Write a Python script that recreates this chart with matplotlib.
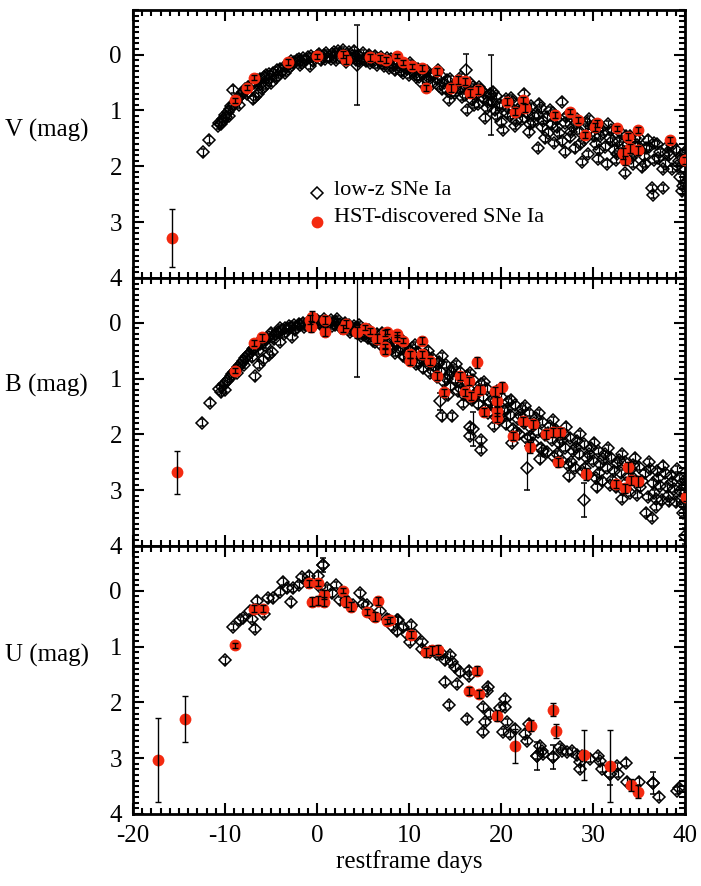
import numpy as np
import matplotlib
matplotlib.use("Agg")
import matplotlib.pyplot as plt
from matplotlib.ticker import MultipleLocator

plt.rcParams['font.family'] = ['Liberation Serif', 'DejaVu Serif']
plt.rcParams['axes.unicode_minus'] = False

# ---------------- data (day, mag) ----------------
v_lowz = [(-12.4,1.75),(-11.7,1.52),(-10.6,1.22),(-10.4,1.25),(-10.2,1.15),(-10.0,1.08),(-9.9,1.12),(-9.7,1.02),
 (-9.5,0.98),(-9.3,0.92),(-9.1,0.63),(-9.0,0.88),(-8.8,0.84),(-8.6,0.78),(-8.4,0.74),(-8.2,0.70),(-8.0,0.66),
 (-7.8,0.62),(-7.5,0.58),(-7.2,0.54),(-7.0,0.80),(-6.9,0.50),(-6.7,0.75),(-6.5,0.46),(-6.4,0.70),(-6.2,0.43),
 (-6.0,0.62),(-5.8,0.40),(-5.6,0.56),(-5.5,0.37),(-5.2,0.35),(-5.0,0.50),(-4.8,0.32),(-4.5,0.42),(-4.4,0.28),
 (-4.0,0.25),(-3.8,0.30),(-3.5,0.33),(-3.5,0.20),(-3.0,0.16),(-2.8,0.12),(-2.5,0.14),(-2.2,0.10),(-2.0,0.08),
 (-1.8,0.12),(-1.5,0.06),(-1.2,0.09),(-1.0,0.05),(-0.8,0.20),(-0.6,0.03),(-0.3,0.06),(0.0,0.02),(0.2,-0.02),
 (0.5,0.04),(0.8,0.00),(1.0,-0.03),(1.3,0.05),(1.5,0.08),(1.8,-0.04),(2.0,0.02),(2.3,-0.06),(2.5,0.05),
 (2.8,-0.08),(3.0,0.00),(3.3,0.08),(3.5,-0.05),(3.8,0.03),(4.0,-0.07),(4.2,0.10),(4.5,0.00),(4.8,0.06),
 (5.0,-0.03),(5.3,0.12),(5.5,0.04),(5.8,0.15),(6.0,0.07),(6.3,0.02),(6.5,0.18),(6.8,0.10),(7.0,0.05),
 (7.3,0.20),(7.5,0.13),(7.8,0.24),(8.0,0.08),(8.3,0.17),(8.5,0.28),(8.8,0.12),(9.0,0.22),(9.3,0.32),
 (9.5,0.18),(9.8,0.26),(10.0,0.36),(10.3,0.22),(10.5,0.30),(10.8,0.40),(11.0,0.26),(11.4,0.50),(11.5,0.34),
 (11.8,0.44),(12.0,0.30),(12.3,0.38),(12.5,0.52),(12.8,0.34),(13.0,0.44),(13.3,0.56),(13.5,0.38),(13.8,0.50),
 (14.0,0.62),(14.3,0.81),(14.5,0.44),(14.8,0.56),(15.0,0.68),(15.3,0.50),(15.5,0.62),(15.8,0.76),(16.0,0.55),
 (16.3,0.99),(16.5,0.66),(16.8,0.82),(17.0,0.58),(17.3,0.72),(17.5,0.88),(17.8,0.64),(18.0,0.78),(18.3,1.13),
 (18.5,0.95),(18.8,0.70),(19.0,0.84),(19.3,1.00),(19.5,0.74),(19.8,0.90),(20.0,1.20),(20.2,1.35),(20.5,0.80),
 (20.8,0.96),(21.0,1.10),(21.3,0.84),(21.5,1.28),(21.8,1.00),(22.0,0.88),(22.3,1.15),(22.5,0.70),(22.8,1.05),
 (23.0,1.38),(23.3,0.92),(23.5,1.20),(24.0,1.67),(24.0,1.08),(24.3,0.96),(24.5,1.30),(24.8,1.50),(25.0,1.12),
 (25.3,1.00),(25.5,1.25),(25.8,1.58),(26.0,1.16),(26.3,1.40),(26.6,0.84),(27.0,1.74),(27.0,1.22),(27.3,1.08),
 (27.5,1.48),(27.8,1.30),(28.0,1.68),(28.3,1.15),(28.5,1.36),(28.8,1.92),(29.0,1.52),(29.3,1.22),(29.5,1.78),
 (29.8,1.40),(30.0,1.28),(30.3,1.60),(30.5,1.86),(30.8,1.45),(31.0,1.30),(31.3,1.65),(31.5,1.95),(31.8,1.50),
 (32.0,1.35),(32.3,1.70),(32.5,1.88),(32.8,1.55),(33.0,1.40),(33.5,2.12),(33.5,1.75),(33.8,1.60),(34.0,1.45),
 (34.3,1.95),(34.5,1.78),(34.8,1.62),(35.0,1.50),(35.3,2.02),(35.5,1.82),(35.8,1.68),(36.0,1.52),(36.4,2.39),
 (36.5,2.51),(36.6,1.88),(37.0,1.60),(37.3,1.75),(37.6,2.39),(37.8,1.95),(38.0,1.65),(38.3,1.80),(38.6,2.05),
 (39.0,1.70),(39.3,1.90),(39.5,2.20),(39.8,2.35),(40.0,1.75),(39.7,2.45),(40.0,2.05)]
v_lowz_extra = [(0.4,0.10),(0.9,0.07),(1.6,-0.01),(2.1,0.09),(2.6,-0.02),(3.1,0.13),(3.6,0.04),(4.1,0.02),
 (4.6,0.12),(5.1,0.08),(5.6,0.00),(6.1,0.13),(6.6,0.08),(7.1,0.15),(7.6,0.06),(8.1,0.22),(8.6,0.16),(9.1,0.30),
 (9.6,0.24),(10.1,0.15),(10.6,0.34),(11.1,0.40),(11.6,0.28),(12.1,0.46),(12.6,0.36),(13.1,0.28),(13.6,0.62),
 (14.1,0.46),(14.6,0.68),(15.1,0.58),(15.6,0.40),(16.1,0.72),(16.6,0.50),(17.1,0.90),(17.6,0.58),(18.1,0.68),
 (18.6,0.85),(19.1,0.66),(19.6,1.10),(20.1,0.92),(20.6,1.05),(21.1,0.78),(21.6,1.18),(22.1,1.02),(22.6,0.90),
 (23.1,1.25),(23.6,1.10),(24.1,0.88),(24.6,1.18),(25.1,1.40),(25.6,1.05),(26.1,1.30),(26.6,1.55),(27.1,1.12),
 (27.6,1.38),(28.1,1.22),(28.6,1.60),(29.1,1.30),(29.6,1.15),(30.1,1.45),(30.6,1.70),(31.1,1.38),(31.6,1.25),
 (32.1,1.55),(32.6,1.78),(33.1,1.62),(33.6,1.45),(34.1,1.85),(34.6,1.50),(35.1,1.70),(35.6,1.95),(36.1,1.65),
 (36.6,1.58),(37.1,1.85),(37.6,2.05),(38.1,1.75),(38.6,1.62),(39.1,2.00),(39.6,1.82),(40.0,2.30),(-2.7,0.18),
 (-1.6,0.15),(-0.4,0.12),(-5.3,0.45),(-4.2,0.36),(-3.2,0.25),(-7.6,0.70),(-8.5,0.90),(-9.6,1.10),(-10.3,1.20),
 (-10.8,1.28),(-6.1,0.52),(-5.0,0.40),(-1.9,0.18)]
v_lowz_big = [(4.3,0.18,0.72),(18.9,0.72,0.72),(16.2,0.28,0.30)]
v_hst = [(-15.8,3.28,0.52),(-8.9,0.82,0.05),(-7.6,0.59,0.04),(-6.9,0.41,0.05),(-3.1,0.13,0.05),(0.0,0.03,0.05),
 (2.8,0.00,0.06),(3.2,0.09,0.08),(5.8,0.05,0.06),(6.8,0.06,0.06),(7.5,0.10,0.05),(8.7,0.02,0.04),(9.4,0.14,0.05),
 (10.3,0.21,0.05),(11.4,0.24,0.05),(11.9,0.60,0.05),(13.0,0.30,0.06),(14.6,0.60,0.07),(15.3,0.45,0.07),
 (16.1,0.48,0.07),(16.6,0.69,0.07),(17.5,0.63,0.07),(20.6,0.84,0.06),(21.5,1.02,0.06),(22.4,0.81,0.06),
 (22.6,0.96,0.07),(25.9,1.08,0.06),(27.5,1.02,0.04),(28.4,1.17,0.06),(29.1,1.44,0.06),(30.2,1.29,0.07),
 (30.4,1.23,0.06),(32.6,1.32,0.05),(33.3,1.77,0.10),(33.5,1.89,0.08),(33.8,1.47,0.06),(34.0,1.68,0.08),
 (34.9,1.35,0.06),(34.9,1.71,0.08),(38.4,1.53,0.06),(40.0,1.89,0.06)]

b_lowz = [(-12.5,1.79),(-11.6,1.43),(-10.6,1.18),(-10.4,1.25),(-10.3,1.16),(-10.1,1.10),(-10.0,1.20),(-9.8,1.05),
 (-9.6,1.00),(-9.4,0.96),(-9.2,0.92),(-9.0,0.88),(-8.8,0.84),(-8.6,0.80),(-8.4,0.76),(-8.2,0.72),(-8.0,0.68),
 (-7.8,0.64),(-7.6,0.60),(-7.4,0.56),(-7.2,0.52),(-7.0,0.48),(-6.7,0.96),(-6.8,0.45),(-6.5,0.42),(-6.3,0.75),
 (-6.2,0.38),(-5.9,0.66),(-6.0,0.30),(-5.8,0.34),(-5.5,0.30),(-5.2,0.58),(-5.2,0.26),(-4.9,0.52),(-5.0,0.18),
 (-4.8,0.23),(-4.5,0.20),(-4.2,0.16),(-4.0,0.34),(-4.0,0.10),(-3.8,0.14),(-3.5,0.10),(-3.2,0.12),(-3.0,0.06),
 (-2.7,0.25),(-2.8,0.08),(-2.5,0.04),(-2.2,0.07),(-2.0,0.02),(-1.8,0.05),(-1.5,0.00),(-1.2,0.04),(-1.0,-0.02),
 (-0.8,0.02),(-0.5,-0.04),(-0.2,0.00),(0.0,-0.05),(0.3,-0.02),(0.5,0.02),(0.8,-0.06),(1.0,-0.02),(1.2,0.03),
 (1.5,-0.04),(1.8,0.00),(2.0,0.05),(2.2,-0.06),(2.5,0.02),(2.8,0.08),(3.0,0.00),(3.3,0.10),(3.5,0.04),
 (3.8,0.14),(4.0,0.06),(4.3,0.18),(4.5,0.10),(4.8,0.24),(5.0,0.12),(5.3,0.20),(5.5,0.28),(5.8,0.16),
 (6.0,0.24),(6.3,0.34),(6.5,0.20),(6.8,0.30),(7.0,0.40),(7.3,0.26),(7.5,0.36),(7.8,0.46),(8.0,0.30),
 (8.3,0.42),(8.5,0.54),(8.8,0.36),(9.0,0.48),(9.3,0.60),(9.5,0.40),(9.8,0.54),(10.0,0.66),(10.3,0.46),
 (10.5,0.60),(10.8,0.74),(11.0,0.52),(11.3,0.66),(11.5,0.82),(11.8,0.58),(12.0,0.72),(12.3,0.90),(12.5,0.64),
 (12.8,0.80),(13.0,0.98),(13.3,0.70),(13.6,1.68),(13.5,0.88),(13.8,1.06),(14.0,0.76),(14.3,0.94),(14.5,1.14),
 (14.7,1.68),(14.8,0.82),(15.0,1.02),(15.3,1.22),(15.5,0.88),(15.8,1.10),(16.0,1.30),(16.3,0.95),(16.6,1.86),
 (16.6,2.03),(16.5,1.18),(16.8,1.38),(17.0,1.02),(17.3,1.26),(17.5,1.46),(17.8,2.10),(17.8,2.28),(17.8,1.10),
 (18.0,1.34),(18.3,1.54),(18.5,1.18),(18.8,1.42),(19.0,1.62),(19.3,1.26),(19.5,1.50),(19.8,1.72),(20.0,1.34),
 (20.3,1.58),(20.5,1.82),(20.8,1.42),(21.0,1.66),(21.3,1.90),(21.5,1.48),(21.8,1.72),(22.0,2.00),(22.3,1.55),
 (22.5,1.80),(22.8,2.08),(23.0,1.62),(23.3,1.88),(23.5,2.16),(23.8,1.70),(24.0,1.95),(24.3,2.24),(24.5,1.78),
 (24.8,2.02),(25.0,2.32),(25.3,1.85),(25.5,2.10),(25.8,2.40),(26.0,1.92),(26.3,2.16),(26.6,2.48),(26.8,2.00),
 (27.0,2.24),(27.3,2.55),(27.5,2.06),(27.8,2.30),(28.0,2.60),(28.3,2.12),(28.5,2.36),(28.8,2.66),(29.0,2.18),
 (29.3,2.42),(29.5,2.72),(29.8,2.24),(30.0,2.48),(30.3,2.78),(30.5,2.30),(30.8,2.54),(31.0,2.84),(31.3,2.36),
 (31.5,2.60),(31.8,2.90),(32.0,2.42),(32.3,2.65),(32.5,2.95),(32.8,2.46),(33.0,2.70),(33.3,3.00),(33.5,2.50),
 (33.8,2.75),(34.0,3.05),(34.3,2.55),(34.5,2.80),(34.8,3.08),(35.0,2.58),(35.3,2.84),(35.8,3.40),(36.0,3.12),
 (36.2,2.62),(36.4,3.50),(36.5,2.88),(36.8,3.15),(37.0,2.66),(37.3,2.92),(37.5,3.18),(37.8,2.70),(38.0,2.95),
 (38.3,3.20),(38.5,2.74),(38.8,2.98),(39.0,3.22),(39.3,2.78),(39.5,3.02),(39.8,3.25),(40.0,2.82),(40.0,3.05),
 (39.8,3.40)]
b_lowz_extra = [(0.4,0.05),(0.9,0.02),(1.6,0.06),(2.1,-0.02),(2.6,0.10),(3.1,0.06),(3.6,0.16),(4.1,0.12),
 (4.6,0.04),(5.1,0.22),(5.6,0.14),(6.1,0.32),(6.6,0.26),(7.1,0.18),(7.6,0.34),(8.1,0.48),(8.6,0.38),(9.1,0.30),
 (9.6,0.62),(10.1,0.50),(10.6,0.40),(11.1,0.72),(11.6,0.62),(12.1,0.50),(12.6,0.86),(13.1,0.74),(13.6,0.60),
 (14.1,1.00),(14.6,0.88),(15.1,0.74),(15.6,1.18),(16.1,1.04),(16.6,0.90),(17.1,1.34),(17.6,1.20),(18.1,1.06),
 (18.6,1.62),(19.1,1.36),(19.6,1.22),(20.1,1.70),(20.6,1.55),(21.1,1.38),(21.6,1.95),(22.1,1.66),(22.6,1.50),
 (23.1,2.05),(23.6,1.80),(24.1,1.62),(24.6,2.30),(25.1,1.98),(25.6,1.75),(26.1,2.35),(26.6,2.10),(27.1,1.86),
 (27.6,2.50),(28.1,2.22),(28.6,2.00),(29.1,2.60),(29.6,2.35),(30.1,2.15),(30.6,2.70),(31.1,2.45),(31.6,2.25),
 (32.1,2.82),(32.6,2.52),(33.1,2.35),(33.6,2.88),(34.1,2.62),(34.6,2.42),(35.1,2.95),(35.6,2.70),(36.1,2.50),
 (36.6,3.05),(37.1,2.78),(37.6,2.56),(38.1,3.10),(38.6,2.85),(39.1,2.62),(39.6,3.15),(40.0,2.92),(-8.7,0.90),
 (-7.9,0.76),(-7.1,0.62),(-6.4,0.50),(-5.6,0.40),(-4.7,0.30),(-3.6,0.20),(-2.4,0.14),(-1.4,0.08),(-0.4,0.06),
 (14.2,1.30),(15.9,1.45),(19.2,1.85),(21.2,2.15),(24.2,2.45),(27.4,2.75),(30.4,2.95),(33.2,3.15),(36.8,3.30)]
b_lowz_big = [(4.3,0.10,0.88),(13.4,1.41,0.15),(22.8,2.60,0.40),(29.0,3.18,0.30),(17.0,1.90,0.30),(40.0,3.82,0.15)]
b_hst = [(-15.2,2.68,0.39),(-8.9,0.86,0.05),(-6.9,0.36,0.05),(-6.0,0.26,0.06),(-0.8,-0.05,0.08),(-0.5,-0.11,0.10),
 (-0.6,0.07,0.10),(0.9,-0.05,0.07),(0.9,0.16,0.08),(2.8,0.11,0.06),(3.2,0.02,0.07),(4.3,0.17,0.10),(5.2,0.09,0.05),
 (5.8,0.15,0.05),(6.5,0.29,0.08),(7.4,0.43,0.05),(7.6,0.16,0.05),(8.7,0.21,0.05),(7.4,0.18,0.05),(7.4,0.51,0.05),
 (8.7,0.27,0.05),(9.4,0.32,0.05),(10.1,0.57,0.06),(10.1,0.69,0.06),(11.4,0.32,0.06),(11.4,0.57,0.06),
 (12.3,0.69,0.06),(13.0,0.95,0.07),(13.8,1.25,0.07),(15.5,0.96,0.07),(16.1,1.25,0.07),(16.5,1.05,0.07),
 (16.7,1.32,0.07),(17.4,0.71,0.10),(17.7,1.20,0.08),(18.2,1.60,0.08),(19.3,1.23,0.08),(19.6,1.41,0.08),
 (19.6,1.59,0.08),(19.6,1.70,0.08),(20.1,1.16,0.10),(21.3,2.03,0.08),(22.4,1.77,0.08),(23.1,2.23,0.10),
 (23.5,1.82,0.08),(24.9,2.00,0.08),(25.7,1.96,0.08),(26.4,1.96,0.08),(26.2,2.50,0.08),(29.2,2.71,0.10),
 (32.5,2.89,0.08),(33.5,2.97,0.08),(33.8,2.59,0.10),(34.1,2.82,0.08),(34.9,2.84,0.10),(40.1,3.12,0.08)]

u_lowz = [(-10.0,1.25),(-9.1,0.65),(-8.4,0.53),(-8.0,0.49),(-7.1,0.50),(-6.7,0.68),(-6.5,0.18),(-7.3,0.36),
 (-5.8,0.41),(-5.3,0.14),(-4.8,0.14),(-4.0,0.02),(-3.7,-0.16),(-3.3,-0.04),(-2.8,0.21),(-2.6,-0.04),(-2.0,-0.10),
 (-1.6,-0.24),(-1.1,-0.16),(-0.9,-0.27),(0.1,-0.27),(0.7,-0.46),(0.3,-0.07),(1.1,-0.04),(1.6,0.05),(2.1,-0.10),
 (2.5,0.17),(3.2,0.17),(3.9,0.26),(4.7,0.05),(5.0,0.23),(5.4,0.26),(6.0,0.44),(6.8,0.36),(7.6,0.50),(8.3,0.65),
 (8.8,0.53),(8.7,0.73),(7.8,0.53),(8.7,0.53),(9.4,0.65),(9.8,0.77),(10.2,0.62),(10.1,0.92),(10.6,0.80),
 (11.4,0.92),(11.4,1.04),(12.3,1.10),(13.0,1.13),(13.6,1.13),(13.9,1.25),(14.5,1.16),(14.7,1.28),(15.0,1.37),
 (13.9,1.63),(15.2,1.67),(14.3,2.05),(15.5,1.46),(16.5,1.43),(16.5,1.52),(16.3,2.30),(18.0,2.09),(18.0,2.53),
 (18.3,2.35),(18.5,1.79),(18.6,1.72),(18.8,2.20),(19.9,2.11),(20.4,1.94),(20.4,2.08),(20.2,2.53),(20.7,2.35),
 (21.0,2.56),(21.5,2.47),(22.6,2.56),(22.8,2.69),(23.0,2.38),(23.9,2.96),(24.2,2.78),(24.5,2.87),(24.6,2.92),
 (25.7,2.98),(26.4,2.80),(26.6,2.87),(27.2,2.89),(27.7,2.87),(28.3,2.94),(28.6,3.07),(28.6,3.19),(28.8,2.96),
 (29.7,3.01),(30.5,2.96),(30.8,3.05),(31.0,3.19),(31.8,3.28),(32.6,3.14),(32.7,3.28),(33.6,3.08),(33.7,3.42),
 (35.0,3.42),(36.5,3.44),(37.2,3.69),(39.1,3.58),(39.4,3.53)]
u_lowz_extra = []
u_lowz_big = [(23.9,2.96,0.25),(25.7,2.98,0.22),(31.8,3.28,0.20),(0.7,-0.46,0.12),(36.5,3.44,0.20)]
u_hst = [(-17.3,3.03,0.75),(-14.3,2.30,0.41),(-8.9,0.98,0.04),(-6.9,0.32,0.06),(-5.9,0.32,0.07),(-0.9,-0.13,0.06),
 (-0.5,0.20,0.08),(0.1,-0.14,0.06),(0.1,0.18,0.08),(0.8,0.07,0.08),(0.8,0.20,0.08),(2.8,0.00,0.05),(3.2,0.20,0.10),
 (3.7,0.29,0.08),(5.4,0.38,0.06),(6.3,0.47,0.08),(6.6,0.18,0.07),(7.6,0.55,0.05),(7.9,0.53,0.05),(10.2,0.79,0.06),
 (11.9,1.10,0.08),(12.5,1.07,0.08),(13.2,1.06,0.08),(17.4,1.43,0.08),(16.5,1.79,0.07),(17.6,1.85,0.07),
 (19.6,2.24,0.10),(21.5,2.78,0.30),(23.3,2.42,0.10),(25.7,2.13,0.12),(26.0,2.51,0.12),(29.0,2.94,0.45),
 (31.8,3.14,0.64),(34.1,3.48,0.10),(34.9,3.60,0.12)]

band_labels = ['V (mag)', 'B (mag)', 'U (mag)']
legend_labels = ['low-z SNe Ia', 'HST-discovered SNe Ia']
xlabel_text = 'restframe days'

RED = '#f42a10'

fig = plt.figure(figsize=(7.01, 8.86), dpi=100)
W, H = 701.0, 886.0
left, right = 133, 685
tops = [10, 278, 546]
ph = 268
label_y = [130, 385, 655]

panels = [(v_lowz + v_lowz_extra, v_lowz_big, v_hst),
          (b_lowz + b_lowz_extra, b_lowz_big, b_hst),
          (u_lowz + u_lowz_extra, u_lowz_big, u_hst)]
axes = []
for i, (low, lowbig, hst) in enumerate(panels):
    ax = fig.add_axes([left / W, 1 - (tops[i] + ph) / H, (right - left) / W, ph / H])
    axes.append(ax)
    low = np.array(low)
    ax.errorbar(low[:, 0], low[:, 1], yerr=0.06, fmt='D', ms=6.0, mfc='none', mec='black',
                mew=1.1, ecolor='black', elinewidth=0.9, capsize=1.5, zorder=2)
    lb = np.array(lowbig)
    ax.errorbar(lb[:, 0], lb[:, 1], yerr=lb[:, 2], fmt='D', ms=6.0, mfc='none', mec='black',
                mew=1.1, ecolor='black', elinewidth=0.9, capsize=2.5, zorder=2)
    h = np.array(hst)
    ax.plot(h[:, 0], h[:, 1], 'o', ms=8.5, color=RED, mec='none', zorder=3)
    ax.errorbar(h[:, 0], h[:, 1], yerr=h[:, 2], fmt='none', ecolor='black', elinewidth=1.0,
                capsize=2.5, zorder=4)
    ax.set_xlim(-20, 40)
    ax.set_ylim(4.0, -0.8)
    ax.xaxis.set_major_locator(MultipleLocator(10))
    ax.xaxis.set_minor_locator(MultipleLocator(1))
    ax.yaxis.set_major_locator(MultipleLocator(1))
    ax.yaxis.set_minor_locator(MultipleLocator(0.1))
    ax.tick_params(which='both', direction='in', top=True, right=True, labelsize=18, width=1.5)
    ax.tick_params(which='major', length=8, pad=8)
    ax.tick_params(which='minor', length=4)
    for s in ax.spines.values():
        s.set_linewidth(2)
    if i < 2:
        ax.set_xticklabels([])
    else:
        ax.set_xlabel(xlabel_text, fontsize=18, labelpad=2)
    fig.text(5 / W, 1 - label_y[i] / H, band_labels[i], fontsize=18, ha='left', va='center')

ax = axes[0]
ax.plot([-0.0], [2.48], 'D', ms=6.0, mfc='none', mec='black', mew=1.1)
ax.plot([-0.0], [2.99], 'o', ms=8.5, color=RED, mec='none')
ax.text(1.8, 2.44, legend_labels[0], fontsize=16, va='center', ha='left')
ax.text(1.8, 2.92, legend_labels[1], fontsize=16, va='center', ha='left')

fig.savefig('out.png', dpi=100)
